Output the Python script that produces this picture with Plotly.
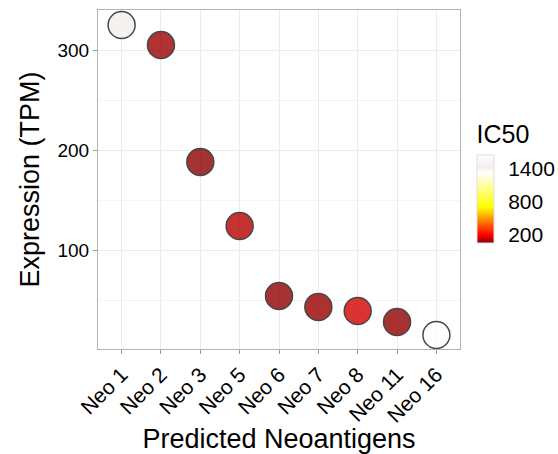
import plotly.graph_objects as go

categories = ["Neo 1", "Neo 2", "Neo 3", "Neo 5", "Neo 6", "Neo 7", "Neo 8", "Neo 11", "Neo 16"]
expression = [325, 305, 188, 124, 54, 43, 39, 28, 15]
ic50 = [1450, 65, 45, 100, 48, 58, 135, 52, 1660]
cbar_ticks = [200, 800, 1400]
y_ticks = [100, 200, 300]
y_minor = [50, 150, 250]

FONT = "Liberation Sans, Arial, sans-serif"

colorscale = [
    [0.0, "#8b0000"],
    [0.09, "#ff0000"],
    [0.41, "#ffff00"],
    [0.80, "#ffffff"],
    [0.86, "#f3eeee"],
    [1.0, "#ffffff"],
]

fig = go.Figure()
fig.add_trace(go.Scatter(
    x=categories, y=expression, mode="markers",
    marker=dict(
        size=27, color=ic50, colorscale=colorscale, cmin=42, cmax=1660,
        opacity=0.8,
        line=dict(color="#1a1a1a", width=1.5),
        colorbar=dict(
            title=dict(text="IC50", side="top", font=dict(size=25, color="black", family=FONT)),
            tickvals=cbar_ticks, ticktext=[str(v) for v in cbar_ticks],
            tickfont=dict(size=21, color="black", family=FONT),
            thicknessmode="pixels", thickness=17,
            lenmode="pixels", len=121,
            x=1.047, xanchor="left", xpad=0,
            y=0.3127, yanchor="bottom", ypad=0,
            outlinewidth=1, outlinecolor="#dddddd",
            ticks="outside", ticklen=10, tickcolor="rgba(0,0,0,0)",
        ),
    ),
    showlegend=False,
))

fig.update_layout(
    width=558, height=454,
    margin=dict(l=98, r=98, t=10, b=105, autoexpand=False),
    paper_bgcolor="white", plot_bgcolor="white",
    font=dict(family=FONT, color="black"),
)
fig.update_xaxes(
    range=[-0.6, 8.6], tickangle=-45, automargin=False,
    tickfont=dict(size=21, color="black"),
    title=dict(text="Predicted Neoantigens", font=dict(size=27, color="black"), standoff=6),
    showgrid=True, gridcolor="#ebebeb", gridwidth=1,
    ticks="outside", ticklen=4, tickcolor="#999999",
    showline=True, linecolor="#b3b3b3", mirror=True, linewidth=1,
    zeroline=False,
)
fig.update_yaxes(
    range=[1, 340], tickvals=y_ticks, automargin=False,
    tickfont=dict(size=19, color="black"),
    title=dict(text="Expression (TPM)", font=dict(size=27, color="black"), standoff=10),
    showgrid=True, gridcolor="#ebebeb", gridwidth=1,
    minor=dict(tickvals=y_minor, showgrid=True, gridcolor="#f5f5f5", ticks=""),
    ticks="outside", ticklen=4, tickcolor="#999999",
    showline=True, linecolor="#b3b3b3", mirror=True, linewidth=1,
    zeroline=False,
)

fig.write_html("out.html")
